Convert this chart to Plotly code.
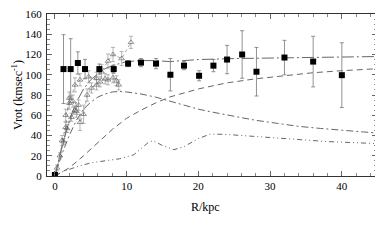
import plotly.graph_objects as go

# Black squares (HI data)
sq_r = [0.0, 1.2, 2.2, 3.2, 4.2, 6.2, 8.2, 10.2, 12.0, 14.1, 16.1, 18.0, 20.1, 22.1, 24.0, 26.1, 28.1, 32.0, 36.0, 40.0]
sq_v = [1, 105.6, 105.6, 111.6, 105.6, 105.6, 105.6, 111, 112, 111, 100, 109, 99, 109, 115, 120, 103, 117, 113, 99.6]
sq_e = [0, 34, 30, 11, 9.6, 5, 4, 3, 4, 5, 16, 4, 5, 6, 14, 23.5, 24, 17, 25, 32]

# Open triangles (optical data), three sequences
t1_r = [0.3, 0.7, 1.2, 1.7, 2.3, 2.8, 3.3]
t1_v = [8, 20, 34, 47, 58, 65, 70]
t1_e = [3, 3, 3, 4, 4, 4, 5]

t2_r = [1.0, 1.5, 2.0, 2.5, 3.0, 3.5, 4.0, 4.5, 5.1, 5.8, 6.3, 7.0, 7.4, 8.1, 8.6, 8.9]
t2_v = [35, 48, 77, 74, 64, 53, 61, 80, 87, 90, 93, 96, 95, 97, 94, 90]
t2_e = [5, 5, 6, 6, 6, 8, 9, 6, 5, 5, 5, 5, 5, 5, 5, 5]

t3_r = [1.5, 2.0, 2.8, 3.5, 4.7, 5.8, 6.5, 7.4, 8.1, 9.3, 10.6]
t3_v = [60, 72, 90, 95, 98, 96.5, 103, 113.5, 120, 116, 132]
t3_e = [6, 6, 7, 6, 6, 6, 7, 7, 7, 7, 6]

# Model curves
tot_r = [0, 1, 2, 3, 4, 5, 6, 7, 8, 9, 10, 12, 14, 16, 18, 20, 25, 30, 35, 40, 45]
tot_v = [0, 30, 55, 73, 86, 95, 101, 106, 109, 111, 113, 114, 114, 113, 114, 115, 116, 116.5, 117, 117.5, 118]

disk_r = [0, 1, 2, 3, 4, 5, 6, 7, 8, 9, 10, 12, 14, 16, 18, 20, 22, 25, 28, 31, 34, 37, 40, 43, 45]
disk_v = [0, 22, 40, 55, 66, 73, 78, 81, 83, 83.5, 83, 81, 78, 74, 70, 66, 63, 59, 55, 52, 49, 47, 45, 43.5, 42.5]

halo_r = [0, 2, 4, 6, 8, 10, 12, 14, 16, 18, 20, 24, 28, 32, 36, 40, 45]
halo_v = [0, 8, 20, 33, 46, 57, 65, 72, 78, 82, 86, 92, 96, 99, 102, 104, 106]

gas_r = [0, 1, 3, 5, 7, 9, 11, 12, 13, 13.7, 15, 16.6, 18, 20, 21.7, 24, 28.6, 33, 38, 43.8, 45]
gas_v = [0, 4, 9, 13, 15, 17, 21, 27, 33, 35, 30, 26, 29, 37, 41.5, 41, 39, 36.5, 34, 32.5, 32]

x_title = "R/kpc"
y_title = "Vrot (kmsec<sup>-1</sup>)"

fig = go.Figure()

lc = "#555555"
fig.add_trace(go.Scatter(x=tot_r, y=tot_v, mode="lines",
                         line=dict(color=lc, width=0.9, dash="12px,3px,2px,3px")))
fig.add_trace(go.Scatter(x=disk_r, y=disk_v, mode="lines",
                         line=dict(color=lc, width=0.9, dash="7px,3px,2px,3px")))
fig.add_trace(go.Scatter(x=halo_r, y=halo_v, mode="lines",
                         line=dict(color=lc, width=0.9, dash="6px,4px")))
fig.add_trace(go.Scatter(x=gas_r, y=gas_v, mode="lines",
                         line=dict(color=lc, width=0.9, dash="5px,3px,1px,3px,1px,3px")))

for rr, vv, ee, ls in [(t1_r, t1_v, t1_e, "solid"), (t2_r, t2_v, t2_e, "dot"), (t3_r, t3_v, t3_e, "dot")]:
    fig.add_trace(go.Scatter(
        x=rr, y=vv, mode="lines+markers",
        line=dict(color="#666666", width=0.6, dash=ls),
        marker=dict(symbol="triangle-up-open", size=5, color="#555555", line=dict(width=0.6)),
        error_y=dict(type="data", array=ee, color="#888888", thickness=0.6, width=2),
    ))

fig.add_trace(go.Scatter(
    x=sq_r, y=sq_v, mode="markers",
    marker=dict(symbol="square", size=6, color="black"),
    error_y=dict(type="data", array=sq_e, color="#777777", thickness=0.8, width=2),
))

fam = "Liberation Serif, Times New Roman, serif"
font = dict(family=fam, size=11, color="black")
axis_common = dict(showline=True, linecolor="#333333", linewidth=1, mirror="ticks",
                   ticks="inside", ticklen=5, tickcolor="#666666", showgrid=False,
                   zeroline=False, tickfont=font, automargin=False,
                   ticklabeloverflow="allow")
fig.update_xaxes(range=[-1.1, 44.9], dtick=10, tick0=0,
                 minor=dict(dtick=2, ticks="inside", ticklen=3, tickcolor="#888888"),
                 **axis_common)
fig.update_yaxes(range=[0, 160], dtick=20, tick0=0, ticklabelstandoff=2,
                 minor=dict(dtick=5, ticks="inside", ticklen=3, tickcolor="#888888"),
                 title=dict(text=y_title, font=dict(family=fam, size=12, color="black"), standoff=0),
                 **axis_common)

fig.add_annotation(text=x_title, xref="paper", yref="paper", x=0.48, y=-0.192,
                   xanchor="center", yanchor="middle", showarrow=False,
                   font=dict(family=fam, size=12, color="black"))

fig.update_layout(width=383, height=242, margin=dict(l=39, r=14, t=6, b=74),
                  paper_bgcolor="white", plot_bgcolor="white", showlegend=False)

fig.write_html("out.html")
